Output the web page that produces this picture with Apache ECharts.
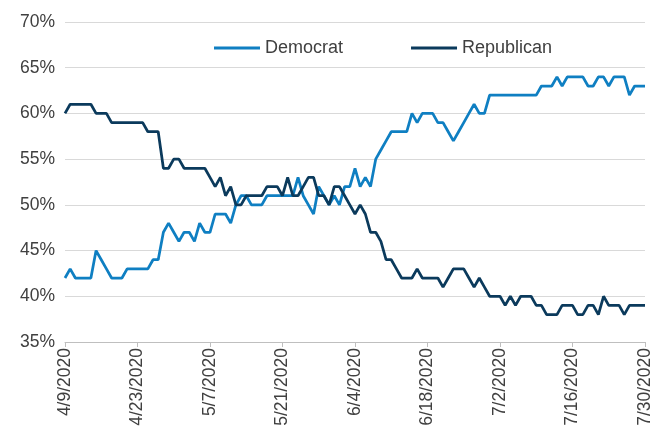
<!DOCTYPE html>
<html>
<head>
<meta charset="utf-8">
<script src="https://cdn.jsdelivr.net/npm/echarts@6/dist/echarts.min.js"></script>
<style>
  html, body { margin: 0; padding: 0; background: #ffffff; }
  #chart { width: 654px; height: 433px; }
</style>
</head>
<body>
<div id="chart"></div>
<script>
// Daily share (%) by party, 4/9/2020 through 7/30/2020
const startDate = [2020, 4, 9];
const dayCount = 113;

const democrat = [
  42, 43, 42, 42, 42, 42, 45, 44, 43, 42,
  42, 42, 43, 43, 43, 43, 43, 44, 44, 47,
  48, 47, 46, 47, 47, 46, 48, 47, 47, 49,
  49, 49, 48, 50, 51, 51, 50, 50, 50, 51,
  51, 51, 51, 51, 51, 53, 51, 50, 49, 52,
  51, 50, 51, 50, 52, 52, 54, 52, 53, 52,
  55, 56, 57, 58, 58, 58, 58, 60, 59, 60,
  60, 60, 59, 59, 58, 57, 58, 59, 60, 61,
  60, 60, 62, 62, 62, 62, 62, 62, 62, 62,
  62, 62, 63, 63, 63, 64, 63, 64, 64, 64,
  64, 63, 63, 64, 64, 63, 64, 64, 64, 62,
  63, 63, 63
];

const republican = [
  60, 61, 61, 61, 61, 61, 60, 60, 60, 59,
  59, 59, 59, 59, 59, 59, 58, 58, 58, 54,
  54, 55, 55, 54, 54, 54, 54, 54, 53, 52,
  53, 51, 52, 50, 50, 51, 51, 51, 51, 52,
  52, 52, 51, 53, 51, 51, 52, 53, 53, 51,
  51, 50, 52, 52, 51, 50, 49, 50, 49, 47,
  47, 46, 44, 44, 43, 42, 42, 42, 43, 42,
  42, 42, 42, 41, 42, 43, 43, 43, 42, 41,
  42, 41, 40, 40, 40, 39, 40, 39, 40, 40,
  40, 39, 39, 38, 38, 38, 39, 39, 39, 38,
  38, 39, 39, 38, 40, 39, 39, 39, 38, 39,
  39, 39, 39
];

const yTicks = { min: 35, max: 70, step: 5 };
const labelEvery = 14;

// Build the daily category labels (m/d/yyyy)
const dates = [];
{
  const d = new Date(startDate[0], startDate[1] - 1, startDate[2]);
  for (let i = 0; i < dayCount; i++) {
    dates.push((d.getMonth() + 1) + '/' + d.getDate() + '/' + d.getFullYear());
    d.setDate(d.getDate() + 1);
  }
}

const chart = echarts.init(document.getElementById('chart'), null, { renderer: 'canvas' });

const textColor = '#404040';
const fontFamily = '"Liberation Sans", Arial, sans-serif';

chart.setOption({
  animation: false,
  backgroundColor: '#ffffff',
  textStyle: { fontFamily: fontFamily },
  grid: { left: 65, right: 5, top: 22, bottom: 91, containLabel: false },
  legend: {
    top: 34,
    left: 209,
    itemGap: 68,
    itemWidth: 46,
    itemHeight: 3,
    icon: 'rect',
    textStyle: { color: textColor, fontSize: 18, fontFamily: fontFamily },
    data: ['Democrat', 'Republican']
  },
  xAxis: {
    type: 'category',
    data: dates,
    boundaryGap: false,
    axisLine: { show: true, lineStyle: { color: '#bfbfbf', width: 1 } },
    axisTick: {
      show: true,
      interval: labelEvery - 1,
      length: 5,
      lineStyle: { color: '#bfbfbf' }
    },
    axisLabel: {
      interval: labelEvery - 1,
      rotate: 90,
      color: textColor,
      fontSize: 17.5,
      margin: 6,
      fontFamily: fontFamily
    },
    splitLine: { show: false }
  },
  yAxis: {
    type: 'value',
    min: yTicks.min,
    max: yTicks.max,
    interval: yTicks.step,
    axisLine: { show: false },
    axisTick: { show: false },
    axisLabel: {
      formatter: '{value}%',
      color: textColor,
      fontSize: 17.5,
      margin: 10,
      fontFamily: fontFamily
    },
    splitLine: { show: true, lineStyle: { color: '#d9d9d9', width: 1 } }
  },
  series: [
    {
      name: 'Democrat',
      type: 'line',
      data: democrat,
      showSymbol: false,
      symbol: 'none',
      color: '#0f7fc2',
      lineStyle: { color: '#0f7fc2', width: 2.75 },
      z: 3
    },
    {
      name: 'Republican',
      type: 'line',
      data: republican,
      showSymbol: false,
      symbol: 'none',
      color: '#0b3a5c',
      lineStyle: { color: '#0b3a5c', width: 2.75 },
      z: 4
    }
  ]
});
</script>
</body>
</html>
